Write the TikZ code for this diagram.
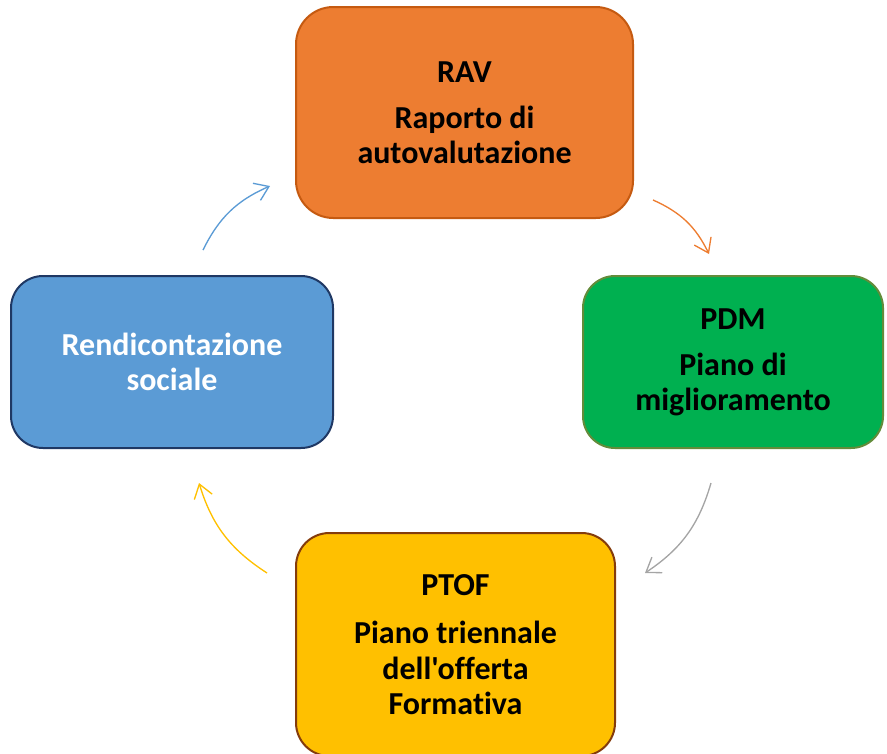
\documentclass[tikz,border=0pt]{standalone}
\usepackage{fontspec}
\newfontfamily\boxfont{Carlito}[Ligatures=NoCommon]
\usetikzlibrary{arrows.meta}
\definecolor{ravfill}{HTML}{ED7D31}
\definecolor{ravline}{HTML}{C55A11}
\definecolor{pdmfill}{HTML}{00B050}
\definecolor{pdmline}{HTML}{638C3A}
\definecolor{ptoffill}{HTML}{FFC000}
\definecolor{ptofline}{HTML}{843C0C}
\definecolor{rendfill}{HTML}{5B9BD5}
\definecolor{rendline}{HTML}{1F3864}
\definecolor{cyclegray}{HTML}{A5A5A5}

\begin{document}
\begin{tikzpicture}[
  x=0.75pt,
  y=-0.75pt,
  every node/.style={font=\boxfont\fontsize{24pt}{26.5pt}\selectfont\bfseries},
  box/.style={rectangle, line width=1.5pt, align=center, inner sep=0pt},
  flow/.style={line width=1pt, bend left=20,
               -{Straight Barb[length=10pt, width=14pt, line width=1pt]}}
]
  \useasboundingbox (0,0) rectangle (887,753);

  % ---- the four stages ----
  \node[box, fill=ravfill, draw=ravline, rounded corners=28pt,
        minimum width=252.75pt, minimum height=158.25pt]
    (rav) at (464.5,112.5) {RAV\\[8pt]Raporto di\\autovalutazione};
  \node[box, fill=pdmfill, draw=pdmline, rounded corners=24pt,
        minimum width=225pt, minimum height=129pt]
    (pdm) at (733,362) {PDM\\[8pt]Piano di\\miglioramento};
  \node[box, fill=ptoffill, draw=ptofline, rounded corners=25pt,
        minimum width=239.25pt, minimum height=167.25pt]
    (ptof) at (455.5,644.5) {PTOF\\[10pt]Piano triennale\\dell'offerta\\Formativa};
  \node[box, fill=rendfill, draw=rendline, rounded corners=24pt,
        minimum width=241.5pt, minimum height=129pt, text=white]
    (rend) at (172,362) {Rendicontazione\\sociale};

  % ---- arrow ends ----
  \coordinate (ravout)  at (653,200);
  \coordinate (pdmin)   at (709,254);
  \coordinate (pdmout)  at (711,483);
  \coordinate (ptofin)  at (645,573);
  \coordinate (ptofout) at (267,573);
  \coordinate (rendin)  at (199,483);
  \coordinate (rendout) at (203,250);
  \coordinate (ravin)   at (270,186);

  % ---- the cycle ----
  \draw[flow, ravfill]   (ravout)  to (pdmin);
  \draw[flow, cyclegray] (pdmout)  to (ptofin);
  \draw[flow, ptoffill]  (ptofout) to (rendin);
  \draw[flow, rendfill]  (rendout) to (ravin);
\end{tikzpicture}
\end{document}
